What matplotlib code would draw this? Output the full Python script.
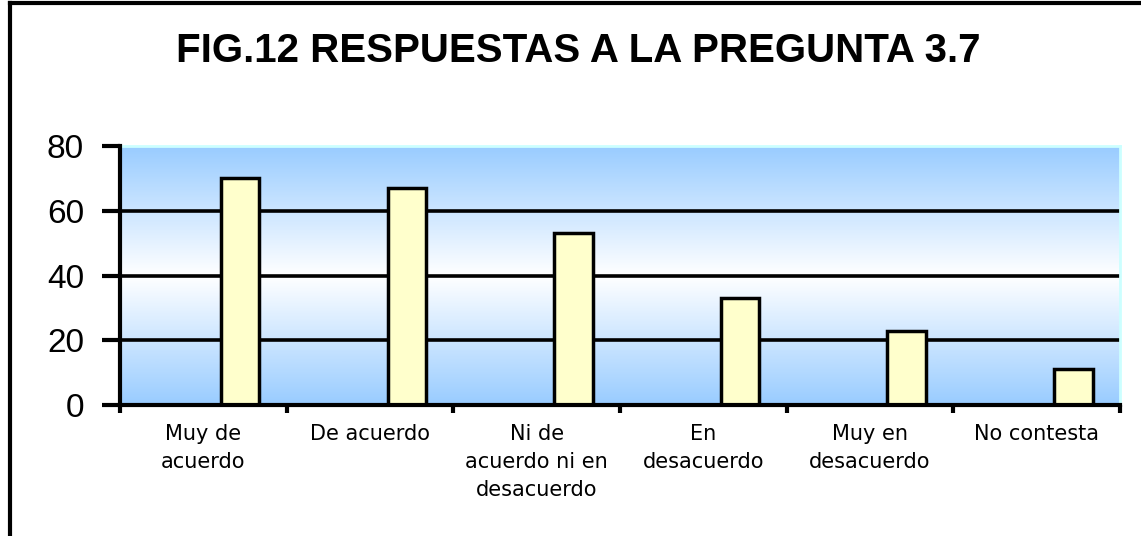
import numpy as np
import matplotlib
matplotlib.use("Agg")
import matplotlib.pyplot as plt
from matplotlib.colors import LinearSegmentedColormap
from matplotlib.lines import Line2D

categories = ["Muy de\nacuerdo", "De acuerdo", "Ni de\nacuerdo ni en\ndesacuerdo",
              "En\ndesacuerdo", "Muy en\ndesacuerdo", "No contesta"]
values = [70, 67, 53, 33, 23, 11]
yticks = [0, 20, 40, 60, 80]
title = "FIG.12 RESPUESTAS A LA PREGUNTA 3.7"

fig = plt.figure(figsize=(11.41, 5.36), dpi=100)
ax = fig.add_axes([120/1141, 131/536, 1000/1141, 259/536])

n = len(categories)
x = np.arange(n)

# gradient background
cmap = LinearSegmentedColormap.from_list("bg", [(0, "#99CCFF"), (0.5, "#FFFFFF"), (1, "#99CCFF")])
grad = np.linspace(0, 1, 256).reshape(-1, 1)
ax.imshow(grad, aspect="auto", cmap=cmap, extent=(-0.5, n - 0.5, 0, 80), origin="lower", zorder=0)

ax.set_xlim(-0.5, n - 0.5)
ax.set_ylim(0, 80)

for y in yticks[1:-1]:
    ax.axhline(y, color="black", lw=2.6, zorder=1)

ax.bar(x + 0.22, values, width=0.23, color="#FFFFCC", edgecolor="black", linewidth=2.5, zorder=2)

# spines
for s in ["top", "right"]:
    ax.spines[s].set_color("#CCFFFF")
    ax.spines[s].set_linewidth(2)
for s in ["left", "bottom"]:
    ax.spines[s].set_color("black")
    ax.spines[s].set_linewidth(3)
    ax.spines[s].set_zorder(3)

ax.set_yticks(yticks)
ax.set_yticklabels([str(v) for v in yticks], fontsize=24, family="Liberation Sans")
ax.tick_params(axis="y", length=13, width=3, pad=13)

ax.set_xticks(np.arange(n + 1) - 0.5)
ax.set_xticklabels([])
ax.tick_params(axis="x", which="major", length=6, width=3)
ax.set_xticks(x, minor=True)
ax.set_xticklabels(categories, minor=True, fontsize=15, family="DejaVu Sans",
                   linespacing=1.5, va="top")
ax.tick_params(axis="x", which="minor", length=0, pad=14)

fig.text(578/1141, 1 - 51/536, title, ha="center", va="center", fontsize=29,
         fontweight="bold", family="Liberation Sans")

# chart-area border (top and left visible)
fig.add_artist(Line2D([10/1141, 10/1141], [0, 1 - 3/536], transform=fig.transFigure, color="black", lw=3))
fig.add_artist(Line2D([10/1141, 1], [1 - 3/536, 1 - 3/536], transform=fig.transFigure, color="black", lw=3))

fig.savefig("out.png", dpi=100)
